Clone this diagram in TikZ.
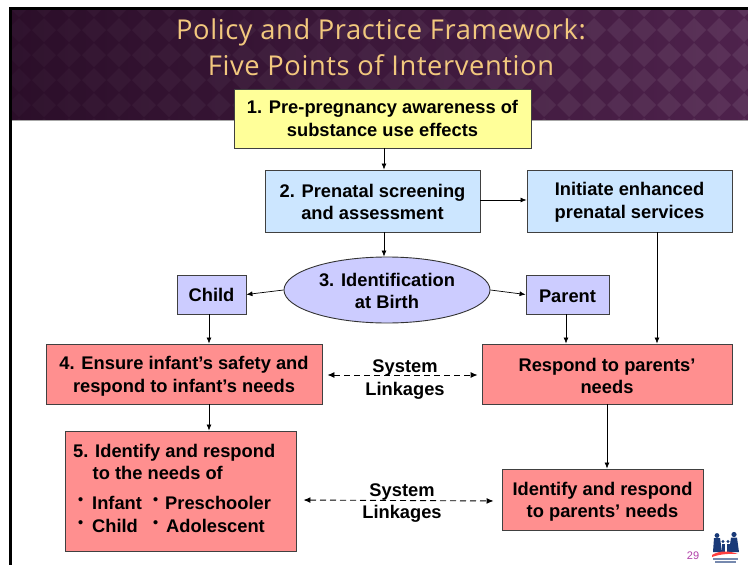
\documentclass[tikz,border=0pt]{standalone}
\usepackage{fontspec}
\setmainfont{Liberation Sans}
\newfontfamily\titlefont[LetterSpace=2.2]{Open Sans}
\usetikzlibrary{arrows.meta,shadows,calc,shapes.geometric}
\definecolor{boxedge}{HTML}{404040}
\definecolor{byellow}{HTML}{FFFF99}
\definecolor{bblue}{HTML}{CCE6FF}
\definecolor{bviolet}{HTML}{CCCCFF}
\definecolor{bred}{HTML}{FF8F8F}
\definecolor{bandL}{HTML}{2B0E29}
\definecolor{bandR}{HTML}{4E224C}
\definecolor{titletext}{HTML}{F2C87E}
\definecolor{logoblue}{HTML}{1A3A78}
\definecolor{pagenum}{HTML}{B03FA8}
\newcommand{\downa}{\rule{0pt}{17.4pt}}
\newcommand{\downb}{\rule{0pt}{15.4pt}}
\newcommand{\bul}[1]{\raisebox{4.2pt}{\fontsize{14.5}{14.5}\selectfont•}\hspace{#1}}
\tikzset{
  box/.style={draw=boxedge,line width=0.9pt,inner sep=0pt,align=center,
    font=\fontsize{18.3}{22.5}\selectfont\bfseries,
    drop shadow={shadow xshift=1pt,shadow yshift=-1pt,opacity=.35,fill=black}},
  link/.style={-{Latex[length=6pt,width=5pt]},line width=0.7pt,black},
  dlink/.style={{Latex[length=7pt,width=6pt]}-{Latex[length=7pt,width=6pt]},line width=0.9pt,dash pattern=on 6pt off 4pt},
  lab/.style={font=\fontsize{18.3}{22.5}\selectfont\bfseries,align=center,inner sep=0pt},
  itm/.style={font=\fontsize{18.3}{21}\selectfont\bfseries,inner sep=0pt,anchor=base west},
}
\begin{document}
\begin{tikzpicture}[x=1pt,y=-1pt]
\useasboundingbox (0,0) rectangle (748,565);
% frame and title band
\fill[black] (9,7) rectangle (748,10);
\fill[black] (9,7) rectangle (12,565);
\shade[left color=bandL,right color=bandR] (12,10) rectangle (748,120);
\begin{scope}
\clip (12,10) rectangle (748,120);
\foreach \i in {0,...,30}{\foreach \j in {0,...,5}{
  \pgfmathsetmacro{\op}{0.025+0.055*\i/30}
  \fill[white,opacity=\op] ({\i*25+7},{\j*25+5}) -- ++(12,-12) -- ++(12,12) -- ++(-12,12) -- cycle;
}}
\end{scope}
\draw[gray!70,line width=0.6pt] (12,120) -- (748,120);
\node[text=titletext,font=\fontsize{27.3}{36.5}\titlefont,align=center,inner sep=0pt] (title) at (381,47.5) {Policy and Practice Framework:\\Five Points of Intervention};
% boxes
\node[box,fill=byellow,minimum width=297pt,minimum height=59pt] (one) at (382.5,118.5) {1. Pre-pregnancy awareness of\\substance use effects};
\node[box,fill=bblue,minimum width=215pt,minimum height=62pt] (two) at (372.5,201) {\downb 2. Prenatal screening\\and assessment};
\node[box,fill=bblue,minimum width=205pt,minimum height=62pt] (init) at (629.5,201) {\downb Initiate enhanced\\prenatal services};
\node[draw=black!80,line width=0.9pt,fill=bviolet,ellipse,minimum width=206pt,minimum height=66pt,inner sep=0pt,align=center,font=\fontsize{18.3}{22.5}\selectfont\bfseries] (three) at (387,290) {\downb 3. Identification\\at Birth};
\node[box,fill=bviolet,minimum width=69pt,minimum height=39pt] (child) at (211.5,294.5) {Child};
\node[box,fill=bviolet,minimum width=83pt,minimum height=39pt] (parent) at (567.5,294.5) {\downb Parent};
\node[box,fill=bred,minimum width=276pt,minimum height=60pt] (four) at (184,374) {\downa 4. Ensure infant’s safety and\\respond to infant’s needs};
\node[box,fill=bred,minimum width=250pt,minimum height=60pt] (resp) at (607,374) {\downa Respond to parents’\\needs};
\node[box,fill=bred,minimum width=231pt,minimum height=120pt] (five) at (180.5,491) {};
\node[box,fill=bred,minimum width=201pt,minimum height=61pt] (iden) at (602.5,499.5) {\downa Identify and respond\\to parents’ needs};
% box five text
\node[itm] (h1) at (73,457) {5. Identify and respond};
\node[itm] (h2) at (92.5,479) {to the needs of};
\node[itm] (a1) at (78,509) {\bul{8.9pt}Infant};
\node[itm] (a2) at (153,509) {\bul{6.9pt}Preschooler};
\node[itm] (a3) at (78,532) {\bul{8.9pt}Child};
\node[itm] (a4) at (153,532) {\bul{7.9pt}Adolescent};
% connector guides
\coordinate (xa) at (384,0);
\coordinate (xb) at (209,0);
\coordinate (xc) at (566,0);
\coordinate (xd) at (657,0);
\coordinate (xe) at (607,0);
\coordinate (ya) at (0,200);
\coordinate (yb) at (0,375);
% connectors
\draw[link] (one.south -| xa) -- (two.north -| xa);
\draw[link] (two.east |- ya) -- (init.west |- ya);
\draw[link] (two.south -| xa) -- (three.north -| xa);
\draw[link] (three.west) -- (child.east);
\draw[link] (three.east) -- (parent.west);
\draw[link] (child.south -| xb) -- (four.north -| xb);
\draw[link] (parent.south -| xc) -- (resp.north -| xc);
\draw[link] (init.south -| xd) -- (resp.north -| xd);
\draw[link] (four.south -| xb) -- (five.north -| xb);
\draw[link] (resp.south -| xe) -- (iden.north -| xe);
\draw[dlink,shorten <=5pt,shorten >=4pt] (four.east |- yb) -- (resp.west |- yb);
\draw[dlink,shorten <=7pt,shorten >=8pt] ($(five.east)+(0,9)$) -- ($(iden.west)+(0,1.5)$);
% linkage labels
\node[lab] (l1) at (405,379.5) {System\\Linkages};
\node[lab] (l2) at (402,503) {System\\Linkages};
% page number
\node[text=pagenum,font=\fontsize{11}{11}\selectfont,inner sep=0pt] (pg) at (693,556) {29};
% logo
\begin{scope}[logoblue]
\fill (717,535.5) circle (2.4);
\fill (734,534.5) circle (2.6);
\fill (714,538) -- (720,538) -- (722,552) -- (713,552) -- cycle;
\fill (731,537.5) -- (737,537.5) -- (739,552) -- (729,552) -- cycle;
\fill (723,541.5) circle (1.6);
\fill (728,541.5) circle (1.6);
\fill (721.5,543.5) rectangle (724.5,552);
\fill (726.5,543.5) rectangle (729.5,552);
\end{scope}
\fill[red!75!white] (712,555) .. controls (720,550) and (730,551) .. (738,554) .. controls (730,553.5) and (720,554) .. (712,557) -- cycle;
\fill[logoblue!60!white] (713,558) rectangle (738,560);
\fill[logoblue!60!white] (715,561) rectangle (736,562.5);
\end{tikzpicture}
\end{document}
